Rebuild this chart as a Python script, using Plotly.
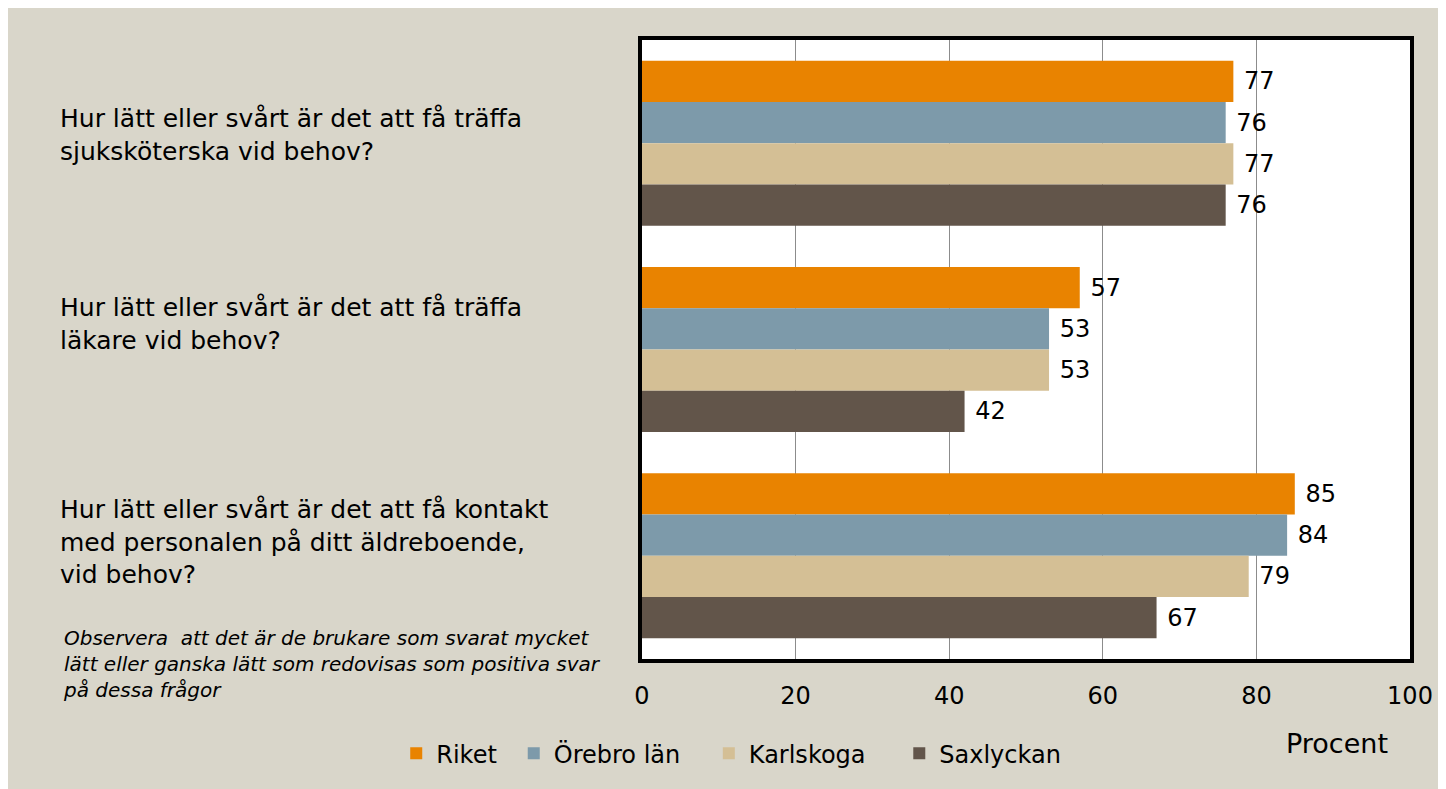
import plotly.graph_objects as go

# question labels (category axis)
questions = [
    "Hur lätt eller svårt är det att få träffa<br>sjuksköterska vid behov?",
    "Hur lätt eller svårt är det att få träffa<br>läkare vid behov?",
    "Hur lätt eller svårt är det att få kontakt<br>med personalen på ditt äldreboende,<br>vid behov?",
]
categories = ["sjukskoterska", "lakare", "kontakt"]

series_names = ["Riket", "Örebro län", "Karlskoga", "Saxlyckan"]
riket = [77, 57, 85]
orebro = [76, 53, 84]
karlskoga = [77, 53, 79]
saxlyckan = [76, 42, 67]
colors = ["#E98300", "#7D9AAA", "#D4BF95", "#62554A"]

FONT = "DejaVu Sans"
BEIGE = "#D9D6CA"

# one legend per series so the items can be spaced like the original
legend_ids = ["legend", "legend2", "legend3", "legend4"]
legend_x = [-0.32, -0.167, 0.087, 0.335]

fig = go.Figure()
for name, vals, col, lg in zip(series_names, [riket, orebro, karlskoga, saxlyckan], colors, legend_ids):
    fig.add_trace(go.Bar(
        y=categories, x=vals, name=name, orientation="h", legend=lg,
        marker=dict(color=col, line=dict(width=0)),
        text=vals, texttemplate=" %{x}", textposition="outside", cliponaxis=False,
        textfont=dict(size=24, color="black", family=FONT),
    ))

# question texts on the left
for cat, q, shift in zip(categories, questions, [8, 26, 14]):
    fig.add_annotation(
        x=-0.761, xref="paper", y=cat, yref="y", yshift=shift,
        text=q, showarrow=False, xanchor="left", align="left",
        font=dict(size=25, color="black", family=FONT),
    )

fig.add_annotation(
    x=-0.756, xref="paper", y=0.056, yref="paper", yanchor="top",
    text="Observera  att det är de brukare som svarat mycket<br>"
         "lätt eller ganska lätt som redovisas som positiva svar<br>"
         "på dessa frågor",
    showarrow=False, xanchor="left", align="left",
    font=dict(size=20, color="black", family=FONT, style="italic"),
)
fig.add_annotation(
    x=0.905, xref="paper", y=-0.137, yref="paper", xanchor="center", yanchor="middle",
    text="Procent", showarrow=False,
    font=dict(size=27, color="black", family=FONT),
)

legend_style = dict(orientation="h", xanchor="left", y=-0.153, yanchor="middle",
                    font=dict(size=24, family=FONT), bgcolor="rgba(0,0,0,0)", itemwidth=30)
fig.update_layout(
    width=1446, height=789,
    margin=dict(l=634, r=44, t=32, b=138),
    paper_bgcolor=BEIGE, plot_bgcolor="white",
    barmode="group", bargap=0.2, bargroupgap=0,
    font=dict(family=FONT, color="black"),
    showlegend=True,
    legend=dict(x=legend_x[0], **legend_style),
    legend2=dict(x=legend_x[1], **legend_style),
    legend3=dict(x=legend_x[2], **legend_style),
    legend4=dict(x=legend_x[3], **legend_style),
)
fig.update_xaxes(range=[0, 100], dtick=20, showgrid=True, gridcolor="#8C8C8C", gridwidth=1,
                 zeroline=False, showline=True, linecolor="black", linewidth=4, mirror=True,
                 tickfont=dict(size=24, family=FONT), ticks="", ticklabelstandoff=12)
fig.update_yaxes(autorange="reversed", showticklabels=False, showgrid=False,
                 showline=True, linecolor="black", linewidth=4, mirror=True, ticks="")

fig.write_html("out.html")
